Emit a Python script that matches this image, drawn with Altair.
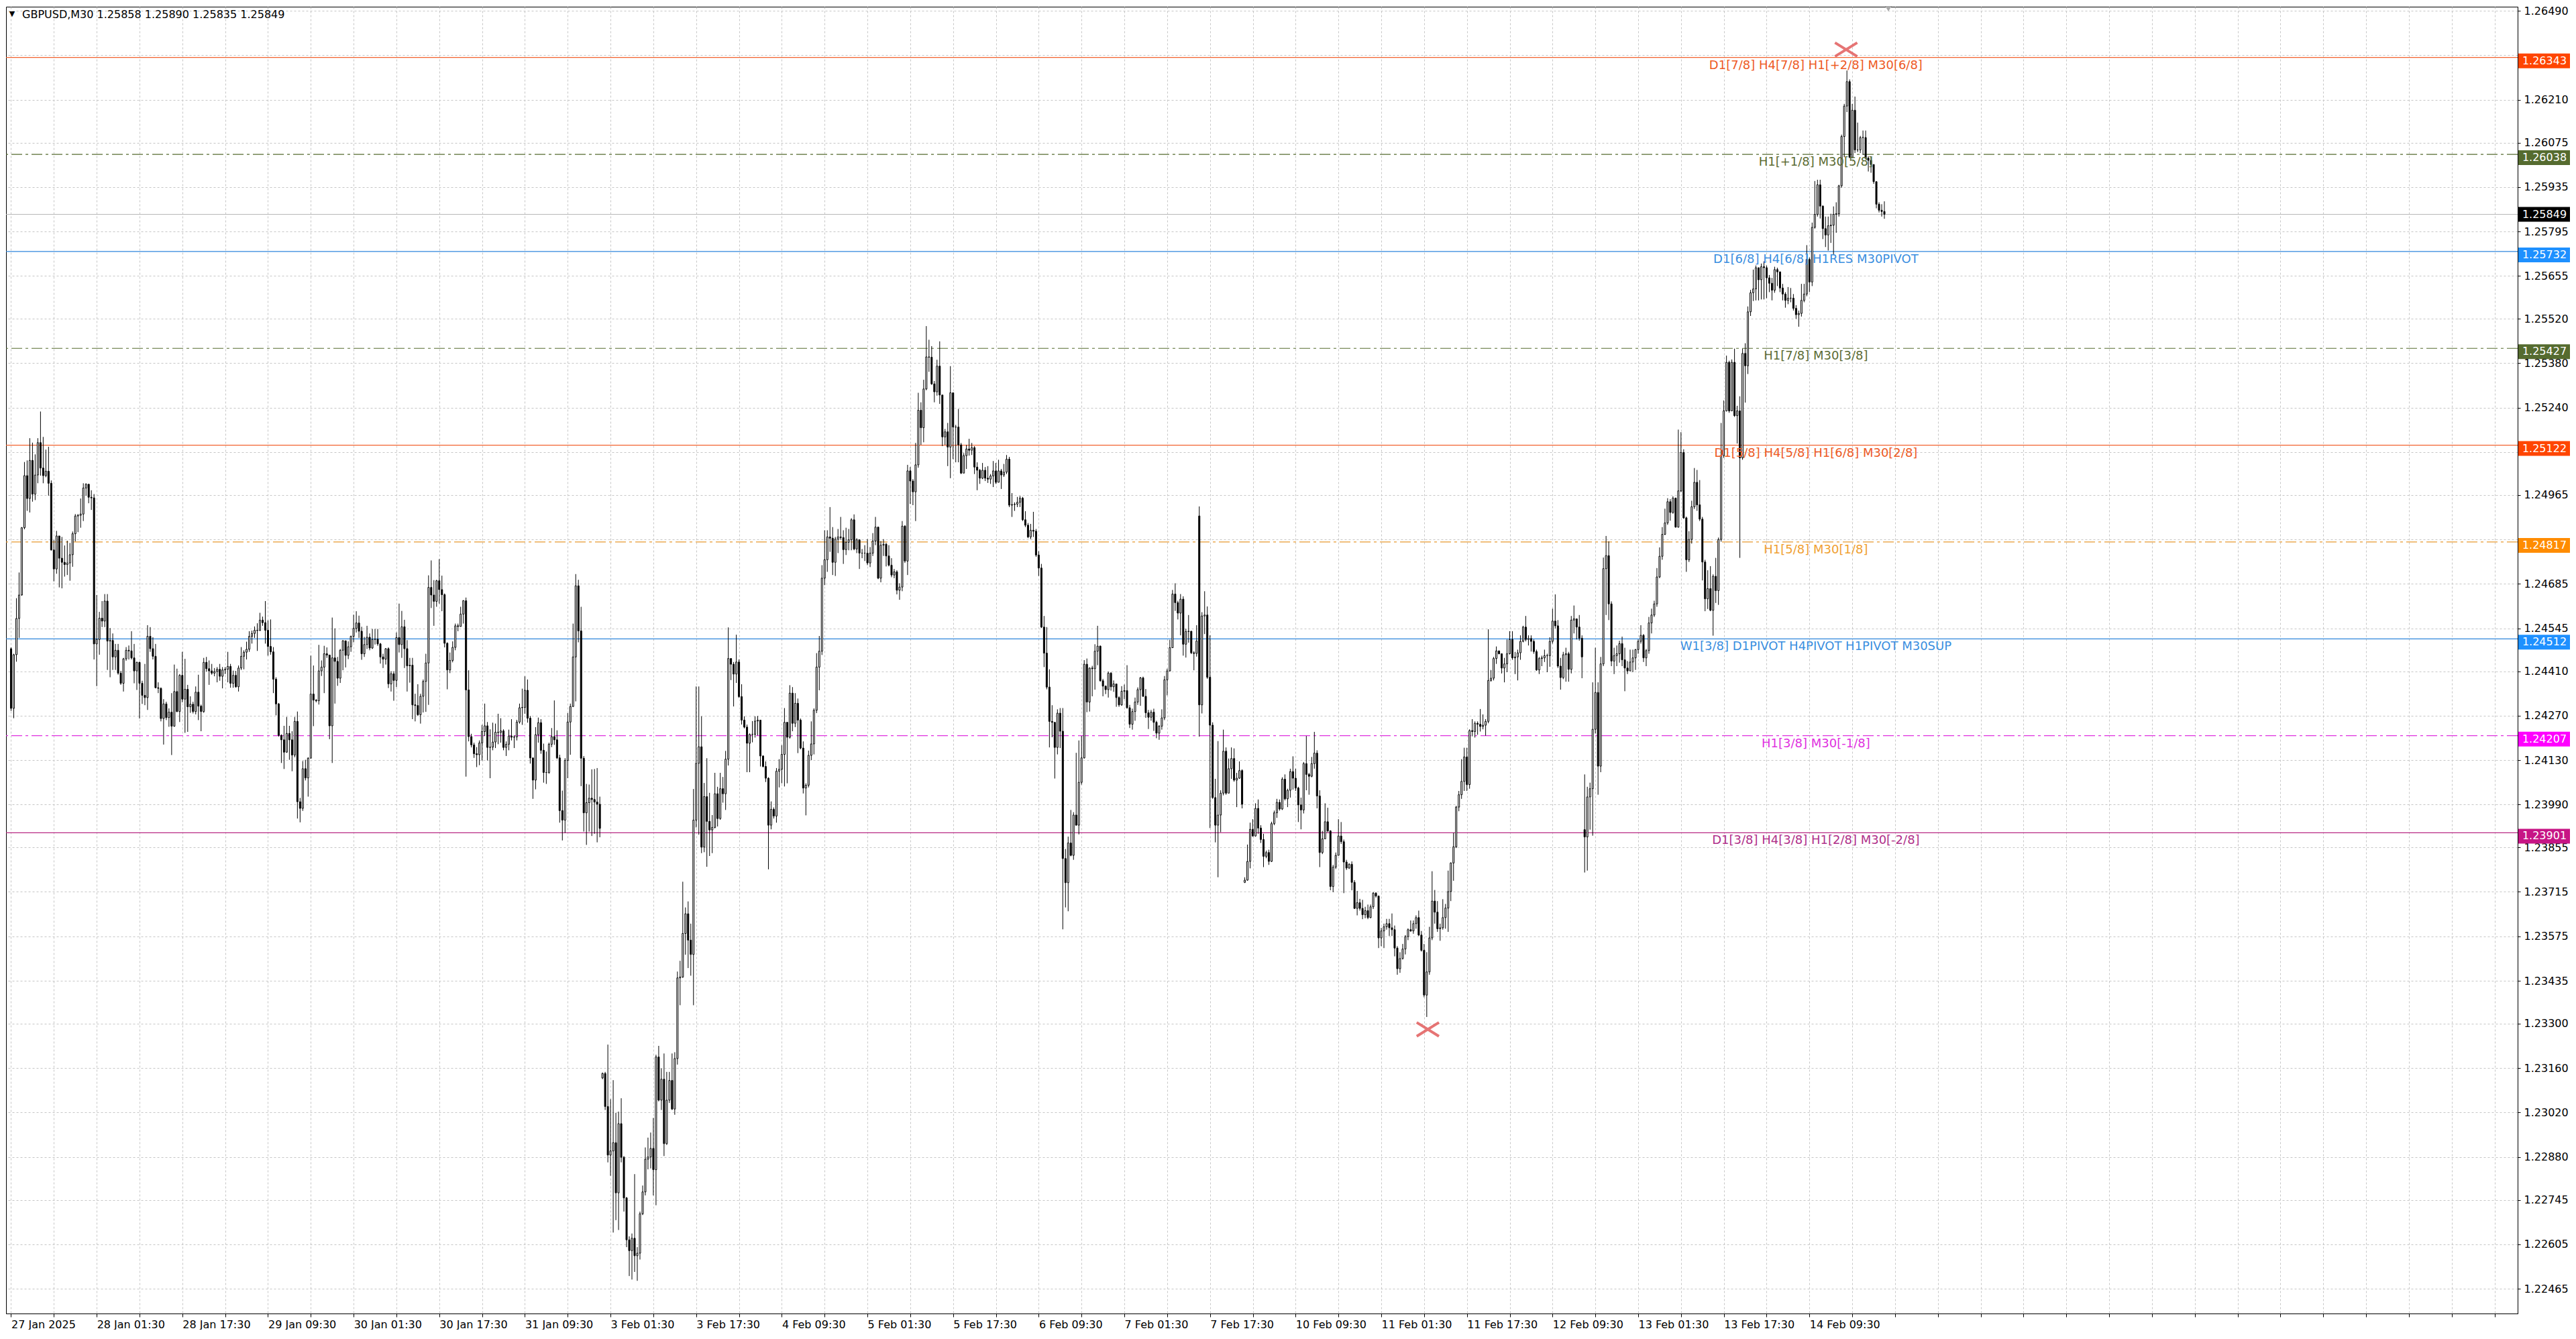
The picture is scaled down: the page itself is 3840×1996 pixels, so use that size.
import json

import altair as alt
import pandas as pd

# GBPUSD M30, 27 Jan - 14 Feb 2025. Prices are pips above 1.2000
BASE = 1.2

open_pips = [
    448.1, 429.3, 446.2, 457.6, 465.0, 486.2, 502.6, 495.4, 507.4, 496.8,
    502.8, 513.0, 505.0, 502.6, 504.0, 500.2, 479.2, 473.2, 483.6, 476.6,
    475.3, 474.6, 475.1, 477.7, 484.3, 489.9, 490.1, 490.5, 498.7, 499.9,
    495.8, 495.6, 449.6, 451.0, 457.7, 456.8, 463.1, 450.5, 450.7, 445.5,
    447.6, 440.4, 437.2, 444.9, 447.6, 447.4, 445.2, 441.1, 443.8, 437.2,
    433.4, 432.7, 452.0, 448.1, 445.7, 435.8, 435.6, 426.1, 430.7, 426.4,
    428.1, 423.7, 434.6, 428.3, 439.7, 432.2, 435.3, 429.8, 430.6, 428.3,
    434.4, 430.0, 428.3, 443.8, 441.8, 441.1, 440.4, 440.9, 441.6, 439.4,
    441.4, 441.6, 442.5, 437.2, 439.7, 436.1, 442.0, 445.7, 447.0, 447.9,
    452.0, 452.9, 453.9, 453.8, 457.1, 456.3, 453.9, 448.8, 447.1, 438.5,
    430.7, 420.8, 419.4, 415.5, 421.4, 419.4, 414.6, 425.2, 399.9, 397.8,
    410.3, 407.4, 413.6, 433.8, 431.9, 431.7, 441.1, 442.3, 446.5, 446.1,
    423.8, 445.2, 444.1, 438.8, 447.6, 450.6, 446.0, 448.7, 452.0, 454.5,
    456.2, 453.6, 446.5, 449.4, 451.7, 448.3, 451.0, 451.1, 449.6, 445.5,
    444.8, 448.1, 437.0, 440.2, 438.1, 451.6, 449.4, 455.0, 448.1, 442.7,
    442.9, 430.4, 430.2, 427.3, 433.1, 437.8, 443.6, 467.4, 465.0, 463.0,
    469.5, 466.7, 465.1, 449.8, 441.4, 444.4, 448.5, 455.3, 455.1, 459.0,
    463.2, 435.1, 420.4, 417.8, 415.0, 414.7, 418.4, 422.0, 423.8, 417.0,
    417.1, 418.7, 421.8, 421.7, 422.2, 417.0, 418.0, 420.6, 420.2, 420.3,
    425.0, 429.5, 429.6, 435.0, 426.2, 413.7, 406.7, 421.0, 424.8, 416.1,
    409.1, 409.1, 418.0, 420.4, 419.4, 413.7, 397.1, 394.1, 412.9, 425.0,
    429.9, 445.5, 467.9, 453.7, 413.6, 396.4, 399.6, 401.0, 400.6, 399.8,
    399.1, 312.9, 314.3, 303.9, 288.6, 289.9, 292.5, 276.7, 298.5, 287.9,
    275.1, 261.9, 258.5, 262.4, 256.9, 257.7, 270.1, 277.0, 287.3, 288.0,
    290.7, 284.0, 319.5, 305.9, 312.5, 292.2, 305.9, 312.1, 303.1, 319.0,
    344.4, 344.7, 358.4, 364.6, 356.3, 351.8, 394.1, 412.0, 417.2, 385.6,
    401.5, 393.7, 391.0, 391.8, 402.4, 394.6, 404.0, 402.4, 413.3, 445.0,
    443.2, 440.1, 443.9, 433.0, 425.6, 423.4, 418.3, 421.1, 421.1, 425.3,
    425.6, 414.3, 411.0, 407.3, 392.5, 397.5, 395.4, 409.5, 410.1, 414.8,
    424.9, 420.2, 434.1, 424.6, 430.9, 425.6, 416.8, 404.2, 405.1, 414.5,
    418.1, 428.7, 442.3, 447.3, 470.3, 476.1, 483.3, 482.9, 475.3, 482.6,
    483.3, 483.1, 479.3, 481.6, 482.4, 488.7, 479.5, 482.4, 478.2, 478.2,
    478.2, 475.1, 478.2, 482.0, 486.4, 470.3, 480.7, 481.0, 477.3, 474.4,
    471.3, 472.3, 466.5, 467.5, 486.7, 475.7, 504.1, 500.9, 497.5, 506.0,
    523.2, 517.7, 529.9, 540.0, 539.9, 531.5, 529.0, 537.1, 528.0, 514.8,
    516.4, 511.6, 528.7, 517.9, 517.9, 512.3, 503.4, 508.9, 511.0, 510.6,
    511.4, 505.3, 504.3, 501.8, 504.3, 501.8, 501.5, 502.5, 504.1, 500.5,
    504.1, 502.8, 503.7, 507.8, 493.3, 493.5, 493.6, 494.2, 495.5, 488.7,
    487.0, 483.3, 485.4, 485.1, 477.6, 473.5, 454.9, 446.7, 436.0, 425.2,
    424.9, 417.0, 427.8, 422.1, 382.0, 374.4, 386.9, 383.0, 395.7, 392.5,
    406.0, 413.7, 443.2, 431.3, 442.0, 441.8, 447.3, 448.9, 438.0, 436.3,
    435.2, 440.4, 436.1, 437.0, 432.7, 430.4, 434.7, 434.9, 429.5, 424.3,
    428.3, 431.3, 435.2, 438.9, 433.1, 427.9, 426.5, 428.1, 424.9, 421.5,
    423.7, 426.3, 438.3, 441.1, 448.4, 465.3, 462.6, 459.3, 463.7, 449.5,
    453.5, 453.6, 446.8, 446.6, 489.9, 430.4, 458.4, 458.7, 439.1, 424.0,
    401.2, 392.5, 395.7, 402.6, 415.8, 402.6, 410.3, 413.5, 406.7, 407.3,
    409.7, 374.5, 375.2, 381.1, 391.2, 389.1, 397.8, 391.6, 388.0, 382.7,
    383.9, 381.1, 393.0, 396.4, 399.7, 397.6, 407.0, 400.8, 403.5, 409.4,
    407.3, 404.2, 398.9, 397.3, 411.9, 408.5, 407.9, 411.9, 415.2, 401.7,
    383.9, 388.2, 393.6, 390.7, 373.2, 379.3, 383.0, 389.1, 387.3, 380.9,
    379.0, 380.2, 374.5, 366.3, 368.1, 366.3, 364.3, 365.6, 363.4, 366.8,
    371.1, 370.2, 357.0, 359.2, 360.5, 361.5, 360.2, 359.6, 353.8, 347.3,
    350.5, 353.5, 357.4, 359.6, 359.2, 361.5, 363.4, 357.9, 353.1, 339.0,
    346.3, 357.0, 368.6, 365.1, 359.9, 360.2, 363.4, 366.4, 371.6, 380.6,
    385.7, 398.2, 402.1, 406.3, 414.0, 405.3, 422.3, 422.0, 424.6, 424.3,
    423.6, 424.0, 425.2, 438.1, 438.8, 445.0, 447.4, 446.5, 442.0, 443.3,
    446.5, 451.0, 445.2, 445.5, 446.8, 450.4, 454.9, 451.0, 451.3, 450.4,
    447.2, 441.4, 445.0, 445.2, 445.9, 445.9, 450.4, 456.8, 455.3, 442.6,
    439.0, 446.2, 446.5, 441.6, 457.1, 457.5, 454.9, 451.4, 391.1, 388.8,
    401.4, 404.0, 422.7, 434.3, 411.1, 443.3, 473.3, 477.4, 462.2, 444.2,
    445.9, 446.5, 449.7, 444.6, 442.0, 441.1, 443.9, 445.2, 447.8, 450.4,
    452.3, 445.2, 447.5, 456.2, 458.7, 462.2, 470.7, 477.2, 484.1, 487.7,
    494.4, 491.0, 495.5, 486.4, 497.8, 509.9, 489.3, 476.1, 482.5, 492.8,
    500.5, 493.4, 488.9, 475.4, 463.8, 467.0, 460.2, 470.9, 466.4, 482.5,
    508.9, 523.0, 538.3, 523.0, 538.3, 521.5, 523.0, 508.2, 541.1, 537.2,
    554.2, 560.2, 561.4, 568.1, 564.3, 568.4, 568.1, 564.9, 563.2, 561.0,
    567.5, 566.8, 561.7, 559.8, 557.8, 558.5, 558.5, 555.3, 553.3, 553.7,
    557.8, 559.8, 570.7, 563.6, 580.8, 584.9, 594.2, 587.5, 580.4, 578.4,
    581.3, 581.5, 584.9, 585.1, 593.9, 609.4, 619.0, 626.7, 602.9, 617.7,
    605.2, 605.2, 609.1, 609.1, 602.6, 601.9, 600.6, 595.2, 588.1, 586.2,
    585.8,
]

high_pips = [
    448.5, 446.5, 464.0, 472.1, 486.4, 506.9, 507.4, 514.4, 513.0, 509.3,
    514.4, 522.8, 514.8, 510.8, 511.7, 501.1, 482.3, 485.2, 483.1, 483.3,
    480.6, 482.1, 481.4, 485.0, 490.5, 490.5, 495.4, 500.2, 500.2, 498.0,
    498.0, 496.8, 465.0, 459.7, 463.1, 465.3, 465.3, 454.6, 452.9, 449.6,
    449.6, 441.1, 445.2, 448.6, 449.1, 453.6, 449.6, 444.0, 444.0, 438.0,
    443.3, 455.5, 454.9, 451.7, 449.6, 437.5, 435.9, 432.2, 431.4, 429.3,
    434.1, 443.1, 441.8, 440.1, 447.1, 444.9, 436.7, 433.1, 431.4, 436.2,
    439.9, 430.5, 445.2, 445.5, 444.4, 443.3, 442.0, 442.3, 443.3, 442.3,
    442.3, 447.1, 443.3, 441.2, 441.1, 442.8, 448.6, 447.6, 450.3, 453.6,
    453.8, 455.1, 456.1, 459.4, 458.2, 463.1, 457.0, 457.3, 448.6, 439.1,
    431.0, 421.1, 423.8, 426.6, 423.8, 422.1, 426.6, 428.3, 401.1, 412.7,
    413.1, 413.9, 445.9, 442.8, 432.2, 449.3, 444.4, 449.0, 448.5, 442.3,
    457.9, 454.5, 445.5, 448.0, 450.8, 448.0, 450.4, 452.2, 458.8, 459.9,
    458.5, 455.0, 451.8, 455.3, 452.9, 454.3, 454.3, 454.3, 449.9, 446.5,
    448.3, 448.5, 441.0, 441.0, 453.2, 462.3, 460.0, 457.2, 450.8, 445.2,
    445.2, 433.9, 436.9, 433.9, 438.4, 446.5, 471.2, 475.9, 469.7, 469.8,
    476.3, 471.1, 465.5, 450.1, 446.9, 450.4, 456.0, 456.0, 461.3, 463.4,
    464.2, 441.3, 421.3, 418.5, 417.1, 419.2, 424.1, 430.8, 425.0, 422.7,
    424.8, 424.5, 427.6, 426.2, 422.7, 418.9, 422.6, 425.9, 420.8, 425.7,
    430.8, 435.5, 439.4, 438.4, 426.9, 412.2, 423.4, 426.4, 425.9, 418.2,
    415.7, 418.5, 423.1, 431.8, 422.4, 414.7, 403.4, 413.6, 427.8, 430.8,
    456.0, 471.6, 469.8, 461.3, 414.3, 405.5, 405.3, 410.1, 410.2, 410.5,
    401.5, 314.6, 314.8, 323.4, 306.2, 312.2, 301.9, 302.3, 306.5, 288.3,
    275.4, 263.0, 263.9, 282.6, 259.6, 270.8, 279.0, 291.0, 294.1, 295.7,
    300.3, 320.2, 323.0, 315.9, 320.6, 314.8, 314.8, 320.6, 321.0, 346.4,
    349.8, 374.7, 366.6, 368.5, 361.5, 403.9, 436.2, 436.2, 426.8, 405.8,
    413.6, 402.7, 395.7, 409.0, 404.6, 409.0, 407.7, 415.9, 454.8, 445.0,
    443.9, 452.5, 444.7, 436.9, 426.8, 424.2, 421.4, 425.3, 426.8, 426.9,
    424.0, 414.5, 412.6, 407.6, 400.0, 398.1, 410.5, 413.3, 417.7, 429.4,
    424.9, 436.6, 436.0, 434.1, 432.4, 426.1, 418.9, 405.7, 416.0, 425.2,
    429.3, 446.7, 452.1, 474.4, 485.4, 485.4, 492.7, 486.4, 483.3, 485.8,
    489.6, 485.4, 486.2, 485.8, 489.2, 490.4, 482.9, 480.1, 479.5, 480.7,
    482.6, 480.1, 484.5, 489.6, 486.4, 482.0, 482.6, 481.4, 480.7, 476.6,
    473.2, 472.8, 468.7, 488.3, 487.0, 506.0, 505.3, 501.5, 512.9, 528.7,
    525.7, 532.8, 549.7, 545.4, 543.4, 532.4, 539.1, 544.9, 527.8, 517.3,
    519.2, 537.1, 528.7, 518.6, 523.6, 512.9, 509.7, 512.3, 514.2, 512.9,
    511.9, 506.8, 504.7, 506.6, 505.3, 505.6, 503.1, 507.2, 506.6, 507.6,
    504.7, 506.3, 509.1, 508.5, 497.1, 494.2, 495.9, 496.2, 495.9, 491.4,
    487.7, 487.4, 491.2, 485.8, 478.8, 474.8, 458.4, 454.9, 441.6, 430.3,
    424.4, 429.0, 429.4, 429.4, 385.0, 388.9, 397.3, 396.6, 415.3, 419.2,
    420.6, 444.5, 445.0, 442.2, 442.7, 449.5, 455.3, 449.1, 438.6, 436.5,
    440.9, 440.7, 438.1, 434.0, 433.1, 436.3, 436.8, 442.9, 430.4, 429.2,
    432.7, 435.9, 439.2, 439.3, 435.4, 428.8, 428.8, 429.2, 425.4, 424.0,
    429.0, 439.5, 441.8, 450.9, 466.6, 468.7, 463.2, 465.3, 464.6, 454.4,
    458.7, 453.6, 447.3, 455.5, 492.9, 459.6, 466.2, 461.4, 452.3, 424.9,
    407.1, 419.0, 403.5, 422.6, 417.0, 413.5, 417.0, 416.7, 409.0, 412.6,
    410.1, 376.1, 386.4, 393.3, 394.4, 399.4, 400.6, 392.5, 389.8, 384.5,
    384.8, 393.6, 397.1, 400.8, 400.6, 407.6, 408.5, 404.0, 410.3, 414.2,
    410.3, 404.6, 401.2, 412.4, 420.6, 409.0, 414.0, 421.9, 416.1, 403.5,
    390.7, 399.4, 398.0, 390.9, 380.0, 383.9, 394.4, 393.5, 388.0, 381.6,
    380.5, 381.1, 375.2, 371.8, 369.3, 369.0, 366.8, 367.5, 367.5, 371.4,
    371.4, 369.9, 360.2, 361.5, 363.0, 363.0, 364.7, 360.9, 354.4, 352.5,
    355.1, 357.9, 360.0, 362.5, 362.5, 364.1, 365.6, 359.2, 355.1, 352.5,
    360.5, 378.0, 372.1, 368.6, 361.5, 369.2, 367.7, 378.2, 380.8, 390.1,
    398.6, 403.3, 413.3, 416.9, 416.9, 422.7, 425.9, 425.2, 425.2, 429.1,
    427.4, 425.9, 454.2, 441.4, 445.5, 448.8, 447.5, 445.2, 445.2, 451.0,
    453.6, 453.6, 447.1, 447.8, 452.3, 455.3, 458.4, 452.3, 452.3, 451.0,
    447.8, 445.5, 445.9, 447.8, 446.5, 451.7, 460.7, 465.2, 457.1, 445.2,
    447.1, 448.4, 447.1, 458.4, 461.7, 457.1, 458.7, 452.3, 408.5, 404.6,
    405.9, 437.5, 448.4, 437.5, 445.5, 476.8, 483.6, 481.9, 463.0, 448.4,
    449.1, 450.6, 451.9, 448.4, 444.2, 447.8, 447.8, 448.0, 451.0, 455.5,
    452.7, 448.0, 458.1, 460.7, 463.2, 473.5, 480.0, 486.4, 492.2, 495.5,
    495.2, 496.1, 495.7, 517.1, 516.3, 510.9, 489.7, 485.1, 494.7, 505.0,
    504.4, 501.2, 489.6, 476.1, 472.8, 474.1, 471.5, 476.7, 483.1, 519.2,
    526.3, 540.4, 538.8, 539.2, 542.6, 524.6, 527.6, 542.6, 544.3, 555.9,
    561.1, 567.5, 568.8, 566.8, 569.4, 570.1, 568.8, 565.8, 564.9, 568.4,
    568.1, 566.2, 563.0, 560.4, 562.0, 561.7, 559.8, 556.3, 554.6, 563.0,
    563.0, 575.2, 571.3, 582.3, 595.4, 595.8, 595.8, 587.7, 584.2, 584.2,
    585.1, 587.4, 588.7, 594.2, 610.0, 619.7, 630.2, 627.4, 619.7, 622.0,
    613.8, 609.6, 611.3, 611.3, 603.2, 602.9, 599.0, 595.2, 588.7, 588.1,
    589.0,
]

low_pips = [
    428.5, 426.2, 444.0, 451.5, 464.8, 485.7, 491.5, 491.0, 494.4, 494.9,
    500.2, 502.6, 500.2, 502.1, 496.3, 479.0, 469.3, 471.7, 467.4, 467.1,
    470.8, 471.3, 469.5, 473.9, 481.9, 484.8, 486.2, 488.3, 496.3, 493.9,
    491.8, 444.7, 436.3, 446.2, 454.9, 454.9, 441.4, 439.1, 441.4, 441.4,
    439.9, 436.7, 434.6, 444.3, 444.7, 444.7, 437.2, 435.1, 426.1, 430.7,
    430.3, 428.8, 447.1, 444.7, 435.6, 434.1, 425.2, 417.9, 425.6, 423.5,
    414.6, 423.5, 428.1, 425.0, 431.2, 421.6, 421.9, 427.9, 427.7, 427.4,
    425.6, 422.1, 427.9, 440.9, 436.7, 439.9, 439.4, 437.5, 438.0, 435.6,
    440.1, 437.5, 435.8, 435.8, 435.8, 434.6, 441.4, 441.6, 444.7, 447.1,
    449.7, 451.5, 447.4, 453.9, 455.3, 449.7, 445.9, 446.2, 434.1, 427.1,
    420.4, 412.1, 410.2, 415.3, 413.1, 409.5, 413.9, 394.6, 393.4, 397.0,
    406.6, 401.5, 413.9, 423.7, 431.2, 430.5, 439.5, 434.1, 445.2, 419.6,
    412.1, 430.8, 436.4, 437.3, 441.3, 442.2, 444.8, 447.1, 450.1, 453.2,
    451.5, 444.6, 445.5, 448.0, 447.6, 448.0, 449.4, 449.0, 443.4, 442.0,
    443.1, 435.7, 434.6, 431.7, 436.0, 446.9, 445.2, 442.0, 434.6, 437.4,
    425.9, 425.2, 426.9, 424.5, 428.0, 428.2, 430.4, 460.9, 455.3, 461.3,
    462.3, 459.9, 448.5, 435.3, 440.4, 443.8, 447.6, 453.6, 455.0, 456.0,
    407.8, 418.9, 417.0, 413.7, 410.8, 411.4, 412.9, 420.6, 412.9, 407.3,
    416.1, 416.8, 418.0, 418.5, 416.1, 414.3, 416.1, 419.2, 416.8, 419.2,
    424.5, 424.1, 427.6, 424.8, 411.9, 400.8, 403.8, 418.5, 415.0, 405.9,
    405.5, 408.7, 417.1, 417.8, 413.3, 393.3, 387.7, 390.1, 407.3, 414.7,
    429.7, 431.5, 450.1, 404.8, 390.5, 386.3, 390.5, 389.1, 389.8, 387.1,
    388.7, 312.5, 302.8, 286.3, 282.1, 264.2, 268.1, 265.0, 286.3, 270.8,
    259.6, 250.5, 249.4, 251.8, 249.0, 255.7, 269.7, 275.9, 284.1, 284.4,
    275.9, 272.8, 305.5, 302.8, 288.3, 291.8, 305.0, 302.8, 301.3, 317.1,
    335.8, 344.4, 351.7, 347.5, 345.1, 335.8, 391.8, 389.5, 383.7, 384.0,
    379.4, 382.8, 383.7, 391.5, 392.1, 394.2, 399.6, 397.3, 411.3, 438.2,
    429.9, 437.3, 432.6, 424.2, 423.0, 409.2, 409.2, 418.6, 420.1, 420.8,
    411.0, 410.7, 406.1, 378.6, 391.2, 394.6, 393.3, 404.4, 405.7, 404.7,
    405.7, 419.8, 422.1, 423.4, 415.2, 416.4, 402.5, 395.6, 404.4, 413.0,
    414.8, 427.8, 435.0, 446.1, 468.1, 472.3, 478.6, 471.3, 471.0, 478.2,
    482.4, 474.8, 477.6, 479.1, 479.1, 479.1, 478.2, 473.2, 476.6, 475.7,
    474.4, 473.8, 477.3, 480.7, 470.0, 469.0, 477.3, 474.0, 474.0, 470.6,
    470.3, 465.2, 463.5, 466.2, 475.1, 471.3, 493.7, 493.3, 488.3, 505.1,
    512.3, 513.1, 529.5, 535.3, 531.2, 525.7, 527.8, 525.2, 511.9, 512.3,
    505.6, 501.8, 507.8, 506.8, 506.8, 503.1, 503.4, 504.7, 508.9, 509.1,
    503.1, 498.0, 500.0, 501.5, 500.9, 500.3, 500.0, 499.0, 500.0, 500.5,
    498.4, 502.2, 503.1, 492.7, 489.6, 491.5, 492.7, 492.7, 488.3, 486.4,
    482.9, 482.6, 483.3, 477.0, 471.0, 454.6, 442.3, 435.3, 417.0, 420.2,
    407.2, 414.8, 416.8, 359.7, 366.6, 365.4, 382.7, 381.6, 392.4, 389.6,
    405.3, 413.5, 428.1, 428.3, 433.1, 435.2, 442.9, 437.7, 433.1, 433.8,
    432.7, 434.9, 434.5, 429.8, 429.8, 430.1, 432.2, 429.2, 423.1, 422.6,
    425.4, 430.4, 430.1, 432.9, 426.3, 422.8, 425.4, 422.2, 419.9, 419.4,
    422.6, 425.6, 433.4, 440.9, 448.4, 460.0, 457.3, 452.3, 445.9, 445.3,
    450.0, 446.4, 441.3, 445.6, 420.4, 427.7, 452.7, 438.6, 391.6, 400.8,
    387.1, 376.1, 390.3, 401.9, 402.1, 403.5, 407.1, 406.2, 398.2, 407.1,
    397.8, 374.3, 375.0, 378.9, 388.9, 388.9, 389.8, 386.9, 379.3, 382.1,
    380.0, 380.9, 392.5, 394.8, 397.1, 397.3, 400.3, 398.2, 401.2, 403.7,
    403.3, 393.5, 391.2, 396.2, 403.5, 402.1, 407.6, 410.3, 397.8, 379.3,
    383.4, 388.7, 390.3, 372.0, 371.4, 378.7, 383.9, 386.6, 371.1, 378.4,
    378.7, 372.0, 366.1, 364.1, 365.6, 362.9, 363.2, 362.9, 363.2, 366.1,
    369.7, 353.8, 354.4, 353.8, 359.6, 357.6, 357.6, 351.2, 345.4, 346.0,
    350.2, 351.8, 356.3, 358.9, 358.3, 359.9, 357.6, 352.7, 338.3, 332.1,
    345.4, 356.3, 361.5, 358.9, 356.1, 359.6, 359.9, 358.9, 368.6, 375.0,
    385.3, 396.9, 400.8, 403.3, 403.3, 404.0, 420.5, 420.1, 421.0, 422.0,
    422.7, 420.7, 424.6, 437.7, 438.1, 443.3, 446.3, 440.3, 437.5, 440.7,
    446.3, 444.6, 440.1, 438.1, 444.6, 450.1, 450.4, 449.1, 447.2, 446.5,
    441.1, 440.1, 442.6, 443.9, 440.7, 442.4, 449.7, 454.5, 442.0, 435.2,
    438.5, 437.7, 437.7, 440.3, 452.9, 451.0, 450.6, 438.8, 377.6, 378.2,
    391.1, 389.2, 421.4, 402.1, 409.2, 442.6, 458.7, 457.1, 442.6, 440.1,
    442.6, 443.7, 442.6, 434.7, 440.1, 441.4, 440.7, 441.4, 446.5, 449.7,
    443.9, 442.6, 446.5, 452.9, 458.1, 461.3, 470.3, 476.1, 483.9, 487.1,
    488.4, 490.6, 486.2, 486.2, 497.4, 489.0, 472.3, 475.4, 481.2, 492.1,
    491.5, 488.3, 469.6, 459.9, 460.6, 459.9, 452.2, 462.5, 461.9, 481.8,
    508.2, 522.8, 522.4, 523.0, 521.1, 512.7, 476.7, 507.6, 525.6, 534.6,
    552.9, 557.6, 557.8, 557.8, 558.1, 558.1, 558.5, 560.4, 557.8, 560.2,
    562.3, 560.4, 557.8, 555.5, 556.6, 557.2, 554.6, 552.0, 549.5, 552.7,
    557.2, 559.1, 560.4, 562.3, 580.4, 584.2, 583.6, 577.1, 574.6, 573.5,
    575.9, 572.3, 579.1, 584.2, 593.3, 602.9, 617.1, 602.6, 602.6, 604.2,
    604.5, 604.2, 603.6, 602.3, 598.4, 598.0, 594.5, 586.8, 585.5, 584.2,
    583.5,
]

close_pips = [
    429.3, 446.2, 457.6, 465.0, 486.2, 502.6, 495.4, 507.4, 496.8, 502.8,
    513.0, 505.0, 502.6, 504.0, 500.2, 479.2, 473.2, 483.6, 476.6, 475.3,
    474.6, 475.1, 477.7, 484.3, 489.9, 490.1, 490.5, 498.7, 499.9, 495.8,
    495.6, 449.6, 451.0, 457.7, 456.8, 463.1, 450.5, 450.7, 445.5, 447.6,
    440.4, 437.2, 444.9, 447.6, 447.4, 445.2, 441.1, 443.8, 437.2, 433.4,
    432.7, 452.0, 448.1, 445.7, 435.8, 435.6, 426.1, 430.7, 426.4, 428.1,
    423.7, 434.6, 428.3, 439.7, 432.2, 435.3, 429.8, 430.6, 428.3, 434.4,
    430.0, 428.3, 443.8, 441.8, 441.1, 440.4, 440.9, 441.6, 439.4, 441.4,
    441.6, 442.5, 437.2, 439.7, 436.1, 442.0, 445.7, 447.0, 447.9, 452.0,
    452.9, 453.9, 453.8, 457.1, 456.3, 453.9, 448.8, 447.1, 438.5, 430.7,
    420.8, 419.4, 415.5, 421.4, 419.4, 414.6, 425.2, 399.9, 397.8, 410.3,
    407.4, 413.6, 433.8, 431.9, 431.7, 441.1, 442.3, 446.5, 446.1, 423.8,
    445.2, 444.1, 438.8, 447.6, 450.6, 446.0, 448.7, 452.0, 454.5, 456.2,
    453.6, 446.5, 449.4, 451.7, 448.3, 451.0, 451.1, 449.6, 445.5, 444.8,
    448.1, 437.0, 440.2, 438.1, 451.6, 449.4, 455.0, 448.1, 442.7, 442.9,
    430.4, 430.2, 427.3, 433.1, 437.8, 443.6, 467.4, 465.0, 463.0, 469.5,
    466.7, 465.1, 449.8, 441.4, 444.4, 448.5, 455.3, 455.1, 459.0, 463.2,
    435.1, 420.4, 417.8, 415.0, 414.7, 418.4, 422.0, 423.8, 417.0, 417.1,
    418.7, 421.8, 421.7, 422.2, 417.0, 418.0, 420.6, 420.2, 420.3, 425.0,
    429.5, 429.6, 435.0, 426.2, 413.7, 406.7, 421.0, 424.8, 416.1, 409.1,
    409.1, 418.0, 420.4, 419.4, 413.7, 397.1, 394.1, 412.9, 425.0, 429.9,
    445.5, 467.9, 453.7, 413.6, 396.4, 399.6, 401.0, 400.6, 399.8, 399.1,
    391.5, 314.3, 303.9, 288.6, 289.9, 292.5, 276.7, 298.5, 287.9, 275.1,
    261.9, 258.5, 262.4, 256.9, 257.7, 270.1, 277.0, 287.3, 288.0, 290.7,
    284.0, 319.5, 305.9, 312.5, 292.2, 305.9, 312.1, 303.1, 319.0, 344.4,
    344.7, 358.4, 364.6, 356.3, 351.8, 394.1, 412.0, 417.2, 385.6, 401.5,
    393.7, 391.0, 391.8, 402.4, 394.6, 404.0, 402.4, 413.3, 445.0, 443.2,
    440.1, 443.9, 433.0, 425.6, 423.4, 418.3, 421.1, 421.1, 425.3, 425.6,
    414.3, 411.0, 407.3, 392.5, 397.5, 395.4, 409.5, 410.1, 414.8, 424.9,
    420.2, 434.1, 424.6, 430.9, 425.6, 416.8, 404.2, 405.1, 414.5, 418.1,
    428.7, 442.3, 447.3, 470.3, 476.1, 483.3, 482.9, 475.3, 482.6, 483.3,
    483.1, 479.3, 481.6, 482.4, 488.7, 479.5, 482.4, 478.2, 478.2, 478.2,
    475.1, 478.2, 482.0, 486.4, 470.3, 480.7, 481.0, 477.3, 474.4, 471.3,
    472.3, 466.5, 467.5, 486.7, 475.7, 504.1, 500.9, 497.5, 506.0, 523.2,
    517.7, 529.9, 540.0, 539.9, 531.5, 529.0, 537.1, 528.0, 514.8, 516.4,
    511.6, 528.7, 517.9, 517.9, 512.3, 503.4, 508.9, 511.0, 510.6, 511.4,
    505.3, 504.3, 501.8, 504.3, 501.8, 501.5, 502.5, 504.1, 500.5, 504.1,
    502.8, 503.7, 507.8, 493.3, 493.5, 493.6, 494.2, 495.5, 488.7, 487.0,
    483.3, 485.4, 485.1, 477.6, 473.5, 454.9, 446.7, 436.0, 425.2, 424.9,
    417.0, 427.8, 422.1, 382.0, 374.4, 386.9, 383.0, 395.7, 392.5, 406.0,
    413.7, 443.2, 431.3, 442.0, 441.8, 447.3, 448.9, 438.0, 436.3, 435.2,
    440.4, 436.1, 437.0, 432.7, 430.4, 434.7, 434.9, 429.5, 424.3, 428.3,
    431.3, 435.2, 438.9, 433.1, 427.9, 426.5, 428.1, 424.9, 421.5, 423.7,
    426.3, 438.3, 441.1, 448.4, 465.3, 462.6, 459.3, 463.7, 449.5, 453.5,
    453.6, 446.8, 446.6, 450.5, 430.4, 458.4, 458.7, 439.1, 424.0, 401.2,
    392.5, 395.7, 402.6, 415.8, 402.6, 410.3, 413.5, 406.7, 407.3, 409.7,
    399.1, 375.2, 381.1, 391.2, 389.1, 397.8, 391.6, 388.0, 382.7, 383.9,
    381.1, 393.0, 396.4, 399.7, 397.6, 407.0, 400.8, 403.5, 409.4, 407.3,
    404.2, 398.9, 397.3, 411.9, 408.5, 407.9, 411.9, 415.2, 401.7, 383.9,
    388.2, 393.6, 390.7, 373.2, 379.3, 383.0, 389.1, 387.3, 380.9, 379.0,
    380.2, 374.5, 366.3, 368.1, 366.3, 364.3, 365.6, 363.4, 366.8, 371.1,
    370.2, 357.0, 359.2, 360.5, 361.5, 360.2, 359.6, 353.8, 347.3, 350.5,
    353.5, 357.4, 359.6, 359.2, 361.5, 363.4, 357.9, 353.1, 339.0, 346.3,
    357.0, 368.6, 365.1, 359.9, 360.2, 363.4, 366.4, 371.6, 380.6, 385.7,
    398.2, 402.1, 406.3, 414.0, 405.3, 422.3, 422.0, 424.6, 424.3, 423.6,
    424.0, 425.2, 438.1, 438.8, 445.0, 447.4, 446.5, 442.0, 443.3, 446.5,
    451.0, 445.2, 445.5, 446.8, 450.4, 454.9, 451.0, 451.3, 450.4, 447.2,
    441.4, 445.0, 445.2, 445.9, 445.9, 450.4, 456.8, 455.3, 442.6, 439.0,
    446.2, 446.5, 441.6, 457.1, 457.5, 454.9, 451.4, 445.5, 388.8, 401.4,
    404.0, 422.7, 434.3, 411.1, 443.3, 473.3, 477.4, 462.2, 444.2, 445.9,
    446.5, 449.7, 444.6, 442.0, 441.1, 443.9, 445.2, 447.8, 450.4, 452.3,
    445.2, 447.5, 456.2, 458.7, 462.2, 470.7, 477.2, 484.1, 487.7, 494.4,
    491.0, 495.5, 486.4, 497.8, 509.9, 489.3, 476.1, 482.5, 492.8, 500.5,
    493.4, 488.9, 475.4, 463.8, 467.0, 460.2, 470.9, 466.4, 482.5, 508.9,
    523.0, 538.3, 523.0, 538.3, 521.5, 523.0, 508.2, 541.1, 537.2, 554.2,
    560.2, 561.4, 568.1, 564.3, 568.4, 568.1, 564.9, 563.2, 561.0, 567.5,
    566.8, 561.7, 559.8, 557.8, 558.5, 558.5, 555.3, 553.3, 553.7, 557.8,
    559.8, 570.7, 563.6, 580.8, 584.9, 594.2, 587.5, 580.4, 578.4, 581.3,
    581.5, 584.9, 585.1, 593.9, 609.4, 619.0, 626.7, 602.9, 617.7, 605.2,
    605.2, 609.1, 609.1, 602.6, 601.9, 600.6, 595.2, 588.1, 586.2, 585.8,
    584.9,
]

# one label every 32 bars (16 hours), grid every 16 bars
date_labels = [
    "27 Jan 2025", "28 Jan 01:30", "28 Jan 17:30", "29 Jan 09:30", "30 Jan 01:30",
    "30 Jan 17:30", "31 Jan 09:30", "3 Feb 01:30", "3 Feb 17:30", "4 Feb 09:30",
    "5 Feb 01:30", "5 Feb 17:30", "6 Feb 09:30", "7 Feb 01:30", "7 Feb 17:30",
    "10 Feb 09:30", "11 Feb 01:30", "11 Feb 17:30", "12 Feb 09:30", "13 Feb 01:30",
    "13 Feb 17:30", "14 Feb 09:30",
]
label_step = 32
grid_step = 16

price_ticks = [
    1.26490, 1.26350, 1.26210, 1.26075, 1.25935, 1.25795, 1.25655, 1.25520,
    1.25380, 1.25240, 1.25100, 1.24965, 1.24825, 1.24685, 1.24545, 1.24410,
    1.24270, 1.24130, 1.23990, 1.23855, 1.23715, 1.23575, 1.23435, 1.23300,
    1.23160, 1.23020, 1.22880, 1.22745, 1.22605, 1.22465,
]
# tick labels that sit fully under a price box
covered_ticks = ["1.26350", "1.25100", "1.24825"]

# Murrey-math style levels
level_prices = [1.26343, 1.26038, 1.25732, 1.25427, 1.25122, 1.24817, 1.24512, 1.24207, 1.23901]
level_texts = [
    "D1[7/8] H4[7/8] H1[+2/8] M30[6/8]",
    "H1[+1/8] M30[5/8]",
    "D1[6/8] H4[6/8] H1RES M30PIVOT",
    "H1[7/8] M30[3/8]",
    "D1[5/8] H4[5/8] H1[6/8] M30[2/8]",
    "H1[5/8] M30[1/8]",
    "W1[3/8] D1PIVOT H4PIVOT H1PIVOT M30SUP",
    "H1[3/8] M30[-1/8]",
    "D1[3/8] H4[3/8] H1[2/8] M30[-2/8]",
]
level_text_colors = ["#ee5a24", "#5b6b33", "#3a8ee0", "#5b6b33", "#ee5a24",
                     "#f0a030", "#3a8ee0", "#e030e0", "#b0308a"]
level_line_colors = ["#f2622e", "#556b2f", "#2f86dc", "#556b2f", "#f2622e",
                     "#e89a30", "#2f86dc", "#e030e0", "#b82a84"]
level_box_colors = ["#ff4500", "#556b2f", "#1e90ff", "#556b2f", "#ff4500",
                    "#ff8c00", "#1e90ff", "#ff00ff", "#c71585"]
level_dashdot = [False, True, False, True, False, True, False, True, False]
label_bar = 674.4

current_price = 1.25849
title_text = "GBPUSD,M30  1.25858 1.25890 1.25835 1.25849"

# swing high / swing low markers
marker_bars = [685.7, 529.4]
marker_prices = [1.26368, 1.23282]
shift_bar = 701.5

W, H = 3744, 1948
BOX = 78

bars = pd.DataFrame({
    "bar": range(len(close_pips)),
    "open": [round(BASE + v / 10000, 5) for v in open_pips],
    "high": [round(BASE + v / 10000, 5) for v in high_pips],
    "low": [round(BASE + v / 10000, 5) for v in low_pips],
    "close": [round(BASE + v / 10000, 5) for v in close_pips],
})
bars["body"] = ["white" if c >= o else "black" for o, c in zip(bars["open"], bars["close"])]

levels = pd.DataFrame({
    "price": level_prices,
    "text": level_texts,
    "text_color": level_text_colors,
    "line_color": level_line_colors,
    "box_color": level_box_colors,
    "dashdot": level_dashdot,
    "label_bar": label_bar,
    "label": [f"{p:.5f}" for p in level_prices],
})
current = pd.DataFrame({"price": [current_price], "label": [f"{current_price:.5f}"]})
markers = pd.DataFrame({"bar": marker_bars, "price": marker_prices})

# 4 px per bar, bar centres on half pixels so wicks stay sharp
x_scale = alt.Scale(domain=[-0.625, 935.375], nice=False, zero=False)
y_scale = alt.Scale(domain=[1.22387, 1.26503], nice=False, zero=False)

x_label_expr = (
    f"datum.value % {label_step} == 0 && datum.value / {label_step} < {len(date_labels)}"
    f" ? {json.dumps(date_labels)}[datum.value / {label_step}] : ''"
)
y_label_expr = (
    f"indexof({json.dumps(covered_ticks)}, format(datum.value, '.5f')) >= 0"
    " ? '' : format(datum.value, '.5f')"
)
x_axis = alt.Axis(
    title=None, values=list(range(0, 936, grid_step)), labelExpr=x_label_expr,
    labelAlign="left", labelFlush=False, labelOverlap=False, labelPadding=3,
    labelFont="DejaVu Sans", labelFontSize=16, labelColor="black",
    tickSize=5, tickColor="black", domainColor="black",
    grid=True, gridColor="#c6c6c6", gridDash=[3, 3],
)
y_axis = alt.Axis(
    title=None, orient="right", values=price_ticks, labelExpr=y_label_expr,
    labelOverlap=False, labelFlush=False, labelPadding=5,
    labelFont="DejaVu Sans", labelFontSize=16, labelColor="black",
    tickSize=4, tickColor="black", domainColor="black",
    grid=True, gridColor="#c6c6c6", gridDash=[3, 3],
)


def xq(field):
    return alt.X(field, type="quantitative", scale=x_scale, axis=x_axis)


def yq(field):
    return alt.Y(field, type="quantitative", scale=y_scale, axis=y_axis)


solid_lines = alt.Chart(levels).transform_filter("!datum.dashdot").mark_rule(strokeWidth=1.2).encode(
    y=yq("price"), color=alt.Color("line_color:N", scale=None)
)
dash_lines = alt.Chart(levels).transform_filter("datum.dashdot").mark_rule(
    strokeWidth=1.2, strokeDash=[16, 5, 4, 5]
).encode(y=yq("price"), color=alt.Color("line_color:N", scale=None))
price_line = alt.Chart(current).mark_rule(color="#b8b8b8", strokeWidth=1.2).encode(y=yq("price"))

wicks = alt.Chart(bars).mark_rule(color="black", strokeWidth=1).encode(
    x=xq("bar"), y=yq("low"), y2="high"
)
bodies = alt.Chart(bars).mark_bar(size=2, stroke="black", strokeWidth=1).encode(
    x=xq("bar"), y=yq("open"), y2="close", fill=alt.Fill("body:N", scale=None)
)

level_labels = alt.Chart(levels).mark_text(
    align="center", baseline="top", dy=3, font="DejaVu Sans", fontSize=18
).encode(x=xq("label_bar"), y=yq("price"), text="text:N",
         color=alt.Color("text_color:N", scale=None))

boxes = alt.Chart(levels).mark_rect(yOffset=-6, y2Offset=16).encode(
    x=alt.value(W + 1), x2=alt.value(W + BOX), y=yq("price"), y2="price",
    fill=alt.Fill("box_color:N", scale=None)
)
box_text = alt.Chart(levels).mark_text(
    align="center", baseline="middle", dy=5, font="DejaVu Sans", fontSize=16, color="white"
).encode(x=alt.value(W + 1 + BOX / 2), y=yq("price"), text="label:N")

cur_box = alt.Chart(current).mark_rect(color="black", yOffset=-11, y2Offset=11).encode(
    x=alt.value(W + 1), x2=alt.value(W + BOX), y=yq("price"), y2="price"
)
cur_text = alt.Chart(current).mark_text(
    align="center", baseline="middle", font="DejaVu Sans", fontSize=16, color="white"
).encode(x=alt.value(W + 1 + BOX / 2), y=yq("price"), text="label:N")

cross_marks = alt.Chart(markers).mark_point(
    shape="M-1,-0.62L1,0.62M-1,0.62L1,-0.62", size=1100, filled=False,
    strokeWidth=4, color="#e25c5c", opacity=0.85
).encode(x=xq("bar"), y=yq("price"))

# small chart-shift triangle on the top border
shift_mark = alt.Chart(pd.DataFrame({"bar": [shift_bar]})).mark_point(
    shape="triangle-down", size=90, filled=True, color="#a8a8a8", opacity=1
).encode(x=xq("bar"), y=alt.value(3))

title_df = pd.DataFrame({"t": [title_text], "arrow": ["\u25bc"]})
title_mark = alt.Chart(title_df).mark_text(
    align="left", baseline="middle", font="DejaVu Sans", fontSize=16, color="black"
).encode(x=alt.value(24), y=alt.value(12), text="t:N")
arrow_mark = alt.Chart(title_df).mark_text(
    align="center", baseline="middle", font="DejaVu Sans", fontSize=11, color="black"
).encode(x=alt.value(9), y=alt.value(11), text="arrow:N")

chart = alt.layer(
    solid_lines, dash_lines, price_line, wicks, bodies, level_labels,
    boxes, box_text, cur_box, cur_text, cross_marks, shift_mark, title_mark, arrow_mark,
).properties(
    width=W, height=H, background="white",
    padding={"left": 0, "top": 0, "right": 0, "bottom": 0},
).configure_view(stroke="black", strokeWidth=1)

chart.save("out.html", embed_options={"renderer": "svg", "actions": False})
